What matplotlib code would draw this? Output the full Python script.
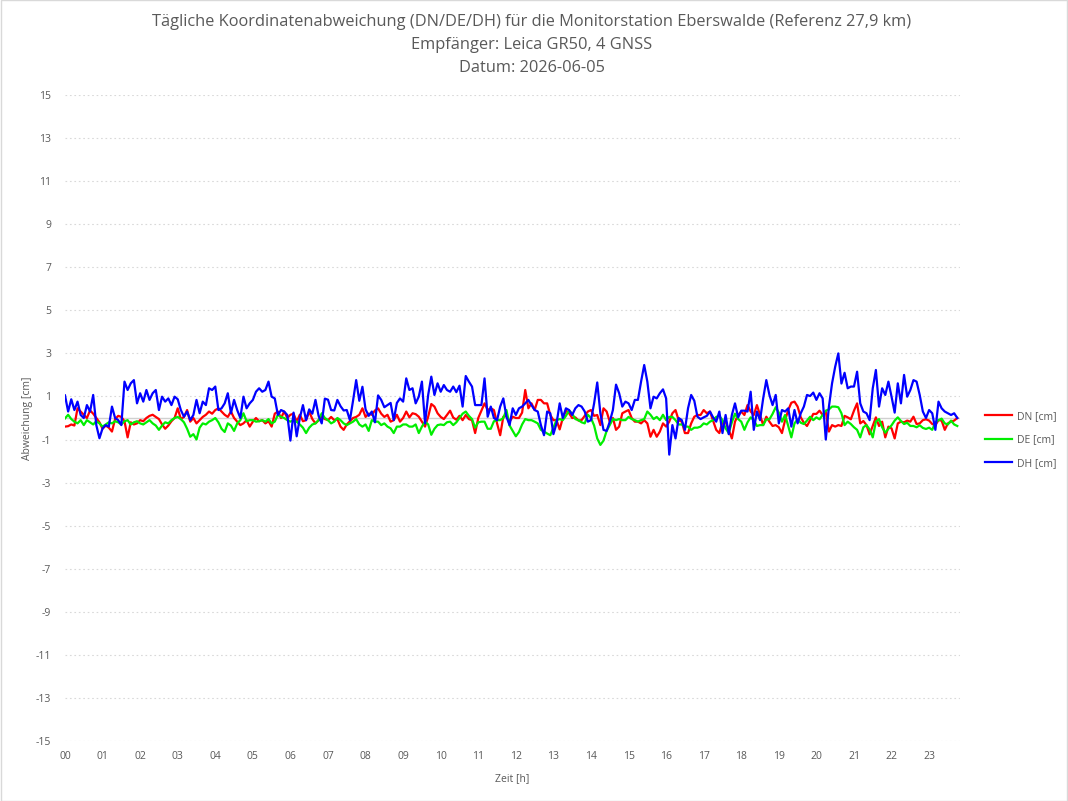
import numpy as np
import matplotlib
matplotlib.use("Agg")
import matplotlib.pyplot as plt
from matplotlib.patches import Rectangle

# ---- data (5-minute samples starting 00:00) ----
step_minutes = 5

dn_cm = [
    -0.4, -0.38, -0.3, -0.35, 0.45, 0.3, 0.15, 0.0, 0.35, 0.2, 0.0, -0.2, -0.5, -0.35, -0.45, -0.63,
    -0.05, 0.1, 0.05, -0.15, -0.9, -0.2, -0.3, -0.25, -0.1, -0.15, 0.0, 0.1, 0.15, 0.05, -0.05, -0.3,
    -0.5, -0.35, -0.15, 0.0, 0.45,
    -0.05, 0.05, 0.37, -0.17, 0.0, -0.25, -0.1, 0.05, 0.15, 0.3, 0.2, 0.37, 0.45, 0.3, 0.15, 0.05,
    0.3, 0.0, -0.17, -0.33, -0.25, -0.1, -0.4, -0.17, 0.0, -0.15, -0.1, -0.25, -0.15, -0.4, 0.2, 0.3,
    0.0, 0.3, 0.0,
    0.15, 0.2, -0.17, 0.15, -0.15, -0.1, 0.3, -0.05, -0.25, -0.1, 0.05, -0.05, -0.1, 0.05, -0.1, -0.05,
    -0.4, -0.55, -0.3, -0.15, 0.0, 0.05, 0.15, 0.45, 0.05, 0.2, 0.15, 0.35, 0.45, 0.2, 0.05, 0.15,
    -0.17, -0.1, 0.15, -0.17, 0.0,
    0.3, 0.03, 0.22, 0.18, 0.06, -0.17, -0.4, 0.06, 0.65, 0.53, 0.22, 0.05, -0.05, 0.14, 0.34, 0.02,
    -0.08, 0.1, -0.1, 0.14, -0.05, -0.1, -0.7, 0.0, 0.34, 0.68, 0.37, 0.45, 0.37, -0.25, -0.8, 0.06,
    0.1, -0.17, 0.06, 0.0, 0.0,
    0.25, 1.3, 0.45, 0.68, 0.37, 0.84, 0.84, 0.68, 0.68, 0.14, -0.1, -0.1, -0.53, 0.0, 0.34, 0.22,
    0.0, 0.03, -0.12, -0.1, 0.1, 0.3, 0.37, 0.1, 0.14, -0.33, 0.45, 0.3, -0.17, 0.0, -0.55, -0.4,
    0.22, 0.3, 0.37, 0.0, -0.17,
    -0.17, -0.25, -0.1, -0.25, -0.87, -0.55, -0.87, -0.63, -0.25, -0.4, -0.17, 0.22, 0.37, -0.1, -0.17, -0.7,
    -0.7, -0.25, 0.06, 0.14, 0.14, 0.37, 0.22, 0.3, -0.12, -0.55, -0.7, -0.17, -0.17, -0.55, -0.95, -0.17,
    0.14, 0.3, 0.14, 0.6,
    0.3, 0.14, 0.6, 0.14, -0.33, 0.06, -0.17, -0.37, -0.33, -0.43, -0.7, -0.1, 0.37, 0.71, 0.76, 0.53,
    0.03, -0.22, -0.37, -0.1, 0.19, 0.19, 0.34, 0.14, 0.3, -0.63, -0.33, -0.4, -0.33, -0.37, 0.1, 0.03,
    -0.06, 0.34, 0.68, -0.25, -0.14,
    -0.33, -0.76, -0.37, 0.03, -0.37, -0.17, -0.9, -0.4, -0.48, -0.95, -0.25, -0.17, -0.2, -0.12, -0.17, 0.06,
    -0.28, -0.25, -0.1, -0.06, -0.12, -0.28, -0.33, -0.1, -0.12, -0.55, -0.25, -0.17, -0.12, 0.0,
]

de_cm = [
    -0.02, 0.15, -0.05, -0.17, -0.25, -0.1, -0.33, -0.1, -0.2, -0.3, -0.15, -0.25, -0.4, -0.3, -0.2, -0.25,
    -0.15, -0.2, -0.3, -0.15, -0.1, -0.3, -0.2, -0.15, -0.25, -0.3, -0.2, -0.1, -0.25, -0.35, -0.55, -0.35,
    -0.2, -0.25, -0.1, 0.0, 0.05,
    -0.05, -0.2, -0.5, -0.87, -0.75, -1.0, -0.45, -0.25, -0.3, -0.17, -0.1, 0.0, -0.2, -0.5, -0.65, -0.25,
    -0.35, -0.6, -0.25, -0.1, 0.22, -0.15, -0.1, -0.1, -0.17, -0.15, -0.1, -0.17, -0.05, -0.25, -0.17, 0.15,
    0.05, 0.0, -0.1,
    -0.17, -0.1, -0.17, -0.3, -0.45, -0.7, -0.45, -0.3, -0.25, -0.1, 0.22, 0.0, -0.1, -0.25, -0.17, 0.0,
    -0.1, -0.25, -0.33, -0.25, -0.17, -0.05, -0.3, -0.4, -0.3, -0.6, -0.1, -0.17, -0.17, -0.33, -0.25, -0.4,
    -0.48, -0.7, -0.4, -0.4, -0.3,
    -0.3, -0.4, -0.4, -0.3, -0.7, -0.4, -0.17, -0.3, -0.78, -0.5, -0.33, -0.3, -0.33, -0.2, -0.17, -0.33,
    -0.2, 0.0, 0.2, 0.3, 0.1, -0.05, -0.45, -0.2, -0.17, -0.17, -0.5, -0.5, -0.15, -0.1, -0.1, 0.0,
    0.37, -0.35, -0.6, -0.85, -0.65,
    -0.3, -0.05, -0.1, -0.1, -0.17, -0.25, -0.55, -0.63, -0.72, -0.8, -0.45, -0.1, -0.05, -0.1, 0.1, 0.35,
    0.2, -0.05, -0.1, -0.2, -0.25, 0.15, 0.0, -0.35, -0.95, -1.25, -1.05, -0.6, -0.33, -0.05, -0.1, -0.05,
    -0.1, -0.1, 0.05, -0.05, -0.1,
    -0.17, -0.1, -0.05, 0.3, 0.15, -0.05, 0.05, -0.1, 0.15, -0.1, 0.05, 0.05, -0.1, -0.3, -0.3, -0.4,
    -0.4, -0.55, -0.45, -0.45, -0.4, -0.25, -0.3, -0.17, -0.1, 0.05, 0.1, -0.1, -0.48, -0.7, -0.2, 0.2,
    -0.05, -0.17, -0.55, -0.2,
    0.03, -0.1, -0.37, -0.33, -0.33, -0.06, -0.06, 0.19, 0.5, 0.25, -0.17, 0.14, -0.37, -0.9, -0.25, -0.06,
    -0.22, -0.28, -0.12, 0.06, -0.1, 0.03, -0.06, 0.14, 0.34, 0.4, 0.53, 0.53, 0.5, 0.22, -0.33, -0.17,
    -0.28, -0.43, -0.55, -0.9, -0.43,
    -0.33, -0.53, -0.9, -0.17, -0.05, -0.43, -0.68, -0.5, -0.34, -0.12, 0.03, -0.14, -0.28, -0.22, -0.37, -0.37,
    -0.43, -0.34, -0.46, -0.51, -0.45, -0.55, -0.2, -0.1, -0.03, -0.25, -0.3, -0.12, -0.3, -0.37,
]

dh_cm = [
    1.05, 0.3, 0.87, 0.37, 0.76, 0.14, 0.0, 0.6, 0.3, 1.07, -0.33, -0.94, -0.48, -0.33, -0.4, 0.53,
    0.0, -0.1, -0.33, 1.69, 1.3, 1.61, 1.76, 0.68, 1.15, 0.76, 1.3, 0.84, 1.15, 1.3, 0.37, 0.99,
    0.76, 0.91, 0.6, 0.99, 0.87,
    0.37, 0.06, 0.3, -0.1, 0.14, 0.84, 0.22, 0.76, 0.6, 1.38, 1.3, 1.46, 0.37, 0.45, 0.68, 1.15,
    0.22, 0.84, 0.37, 0.0, 0.99, 0.45, 0.68, 0.84, 1.22, 1.38, 1.22, 1.3, 1.69, 0.99, 0.91, 0.14,
    0.37, 0.3, 0.14,
    -1.05, 0.25, -0.85, 0.0, 0.6, -0.1, 0.4, 0.2, 0.84, 0.1, -0.25, 0.9, 0.85, 0.37, 0.35, 0.84,
    0.55, 0.35, 0.37, -0.1, 0.8, 1.76, 0.8, 1.45, 0.4, 0.1, 0.3, -0.2, 1.05, 0.84, 0.5, 0.6,
    0.7, -0.1, 0.7, 0.91, 0.76,
    1.84, 1.3, 1.38, 0.68, 0.99, 1.69, -0.25, 1.07, 1.92, 1.07, 1.61, 1.22, 1.53, 1.3, 1.22, 1.46,
    1.2, 1.5, 0.53, 1.95, 1.69, 1.46, 0.6, 0.6, 0.6, 1.84, 0.06, 0.53, 0.0, -0.1, 0.53, 0.91,
    0.06, -0.33, 0.45, 0.14, 0.45,
    0.53, 0.68, 0.84, 0.6, 0.37, 0.3, -0.33, -0.8, 0.3, 0.22, -0.75, -0.25, 0.68, 0.0, 0.45, 0.37,
    0.14, 0.45, 0.6, 0.53, 0.3, -0.17, -0.1, 0.68, 1.65, 0.22, -0.55, -0.6, -0.17, 0.37, 1.55, 1.15,
    0.53, 0.76, 0.68, 0.37, 0.84,
    0.84, 1.69, 2.46, 1.69, 0.45, 0.99, 0.91, 1.15, 1.33, 0.91, -1.7, -0.33, -0.95, 0.0, -0.1, -0.55,
    0.45, 1.07, 0.8, 0.06, -0.05, 0.03, 0.1, 0.3, 0.03, -0.17, 0.3, -0.7, 0.14, -0.75, 0.14, 0.68,
    0.03, 0.34, 0.34, 0.3,
    1.22, -0.55, 0.3, -0.1, 0.91, 1.76, 1.07, 0.6, 1.07, -0.25, 0.37, 0.3, 0.45, -0.4, 0.37, -0.25,
    0.22, 0.53, 1.07, 1.02, 1.18, 0.84, 1.15, 0.91, -1.0, 0.53, 1.61, 2.38, 3.0, 1.6, 2.1, 1.38,
    1.46, 1.46, 2.15, 0.68, 0.3,
    0.22, -0.1, 1.38, 2.23, 0.53, 1.38, 1.07, 1.69, 0.99, 0.25, 1.61, 0.68, 2.0, 0.99, 1.3, 1.76,
    1.69, 1.07, 0.3, 0.0, 0.37, 0.22, -0.55, 0.76, 0.45, 0.3, 0.22, 0.14, 0.22, 0.0,
]

series_labels = ["DN [cm]", "DE [cm]", "DH [cm]"]
series_colors = ["#ff0000", "#00ee00", "#0000ff"]
hour_labels = [f"{h:02d}" for h in range(24)]
y_ticks = list(range(-15, 16, 2))

title_lines = [
    "Tägliche Koordinatenabweichung (DN/DE/DH) für die Monitorstation Eberswalde (Referenz 27,9 km)",
    "Empfänger: Leica GR50, 4 GNSS",
    "Datum: 2026-06-05",
]

# ---- plotting ----
plt.rcParams['font.family'] = ['Open Sans', 'DejaVu Sans']
txt = "#595959"

fig = plt.figure(figsize=(10.68, 8.01), dpi=100)
fig.patch.set_facecolor("white")
ax = fig.add_axes([65 / 1068, 1 - 741 / 801, (960 - 65) / 1068, (741 - 95) / 801])

n = len(dh_cm)
t_hours = np.arange(n) * step_minutes / 60.0

for yv in y_ticks:
    ax.axhline(yv, color="#d9d9d9", lw=0.8, ls=(0, (1.5, 2.5)), zorder=0)
ax.axhline(0, color="#d0d0d0", lw=1.0, zorder=1)

lines = []
for vals, lab, col in zip([dn_cm, de_cm, dh_cm], series_labels, series_colors):
    ln, = ax.plot(t_hours[:len(vals)], vals, color=col, lw=1.6, label=lab, zorder=3)
    lines.append(ln)

ax.set_xlim(0, (960 - 65) / 37.57)
ax.set_ylim(-15, 15)
ax.set_yticks(y_ticks)
ax.set_yticklabels([str(v) for v in y_ticks])
ax.set_xticks(range(24))
ax.set_xticklabels(hour_labels)
ax.tick_params(axis="both", length=0, labelsize=7.5, colors=txt)
ax.tick_params(axis="y", pad=10)
ax.tick_params(axis="x", pad=7)
for s in ax.spines.values():
    s.set_visible(False)

ax.set_xlabel("Zeit [h]", fontsize=7.5, color=txt, labelpad=8)
ax.set_ylabel("Abweichung [cm]", fontsize=7.5, color=txt, labelpad=2)

ys = [22, 45, 68]
for line, yy in zip(title_lines, ys):
    fig.text(532 / 1068, 1 - yy / 801, line, ha="center", va="center",
             fontsize=11.8, color=txt)

fig.legend(handles=lines, labels=series_labels, loc="center left",
           bbox_to_anchor=(976 / 1068, 1 - 440 / 801), frameon=False,
           fontsize=7.5, handlelength=2.6, labelspacing=1.2, handletextpad=0.4,
           labelcolor=txt)

fig.patches.append(Rectangle((0.0005, 0.0005), 0.999, 0.999, transform=fig.transFigure,
                             fill=False, edgecolor="#d9d9d9", lw=1))

fig.savefig("out.png", dpi=100, facecolor="white")
